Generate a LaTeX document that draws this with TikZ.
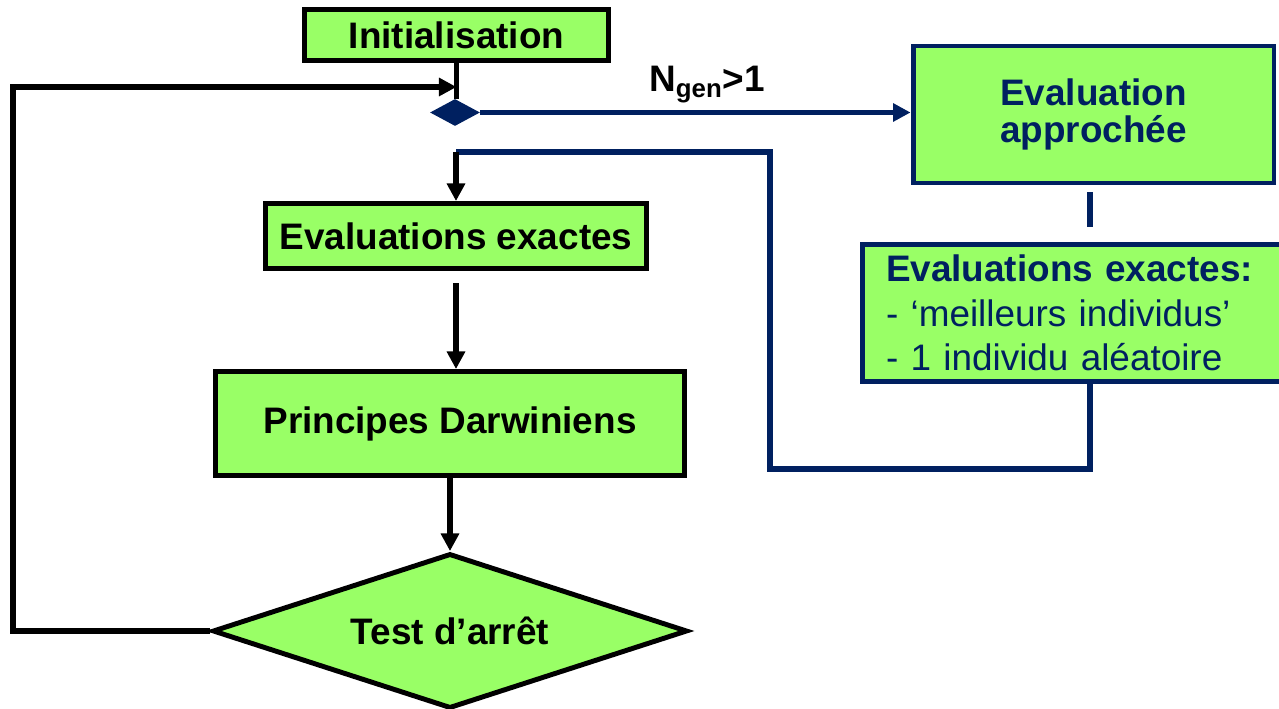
\documentclass[tikz,border=0pt]{standalone}
\usepackage{fontspec}
\setmainfont{Liberation Sans}
\usepackage{tikz}
\usetikzlibrary{shapes.geometric,arrows.meta}
\definecolor{boxgreen}{RGB}{153,255,102}
\definecolor{navy}{RGB}{0,32,96}

\begin{document}
\begin{tikzpicture}[x=0.02cm, y=-0.02cm,
        box/.style={draw, line width=2.8pt, fill=boxgreen, inner sep=0pt,
            font=\fontsize{21}{25}\selectfont\bfseries},
        navybox/.style={box, draw=navy, text=navy},
        test/.style={box, diamond, aspect=3, minimum width=9.5cm, minimum height=3.1cm},
        sel/.style={diamond, fill=navy, inner sep=0pt, minimum width=1cm, minimum height=0.54cm},
        lbl/.style={font=\fontsize{21}{25}\selectfont\bfseries, inner sep=0pt},
        flow/.style={line width=3pt, -{Triangle[length=10pt,width=10pt]}},
        navyline/.style={line width=3pt, draw=navy},
        navyflow/.style={navyline, -{Triangle[length=10pt,width=10pt]}, fill=navy}]
        \useasboundingbox (0,0) rectangle (1279,709);
        % main loop
        \draw (456.5, 35) node(init)[box, minimum width=6.08cm, minimum height=1.02cm]{Initialisation};
        \draw (455, 112.5) node(sel)[sel]{};
        \draw (456, 236) node(evx)[box, minimum width=7.62cm, minimum height=1.3cm]{Evaluations exactes};
        \draw (450, 423.5) node(darwin)[box, minimum width=9.38cm, minimum height=2.08cm]{Principes Darwiniens};
        \draw (450, 631) node(test)[test]{Test d’arrêt};
        \coordinate (join) at (init.south |- 0,87);
        \draw[line width=3pt] (init.south) -- (init.south |- sel.north);
        \draw[flow] (test.west) -| (13,87) -- (join);
        \draw[flow, shorten <=0.25cm] (evx.south) -- (evx.south |- darwin.north);
        \draw[flow] (darwin.south) -- (test.north);
        % approximate evaluation branch
        \draw (1093.5, 114.5) node(appr)[navybox, minimum width=7.22cm, minimum height=2.74cm,
            align=center, font=\fontsize{21}{21.5}\selectfont\bfseries]{Evaluation\\approchée};
        \draw (1090, 313) node(evr)[navybox, minimum width=9.1cm, minimum height=2.74cm,
            inner xsep=0.47cm, text width=8.16cm, align=left,
            font=\fontsize{21}{25.2}\selectfont]{\textbf{Evaluations exactes:}\\- ‘meilleurs individus’\\- 1 individu aléatoire};
        \draw (707, 92) node(ngen)[lbl, anchor=base]{N\textsubscript{gen}>1};
        \draw[navyflow] (sel.east) -- (sel.east -| appr.west);
        \draw[navyline, shorten <=0.14cm, shorten >=0.3cm] (appr.south -| evr.north) -- (evr.north);
        \coordinate (fbtop) at (456,152);
        \draw[navyline] (evr.south) |- (770,469) |- (fbtop);
        \draw[flow] (fbtop) -- (fbtop |- evx.north);
\end{tikzpicture}
\end{document}
